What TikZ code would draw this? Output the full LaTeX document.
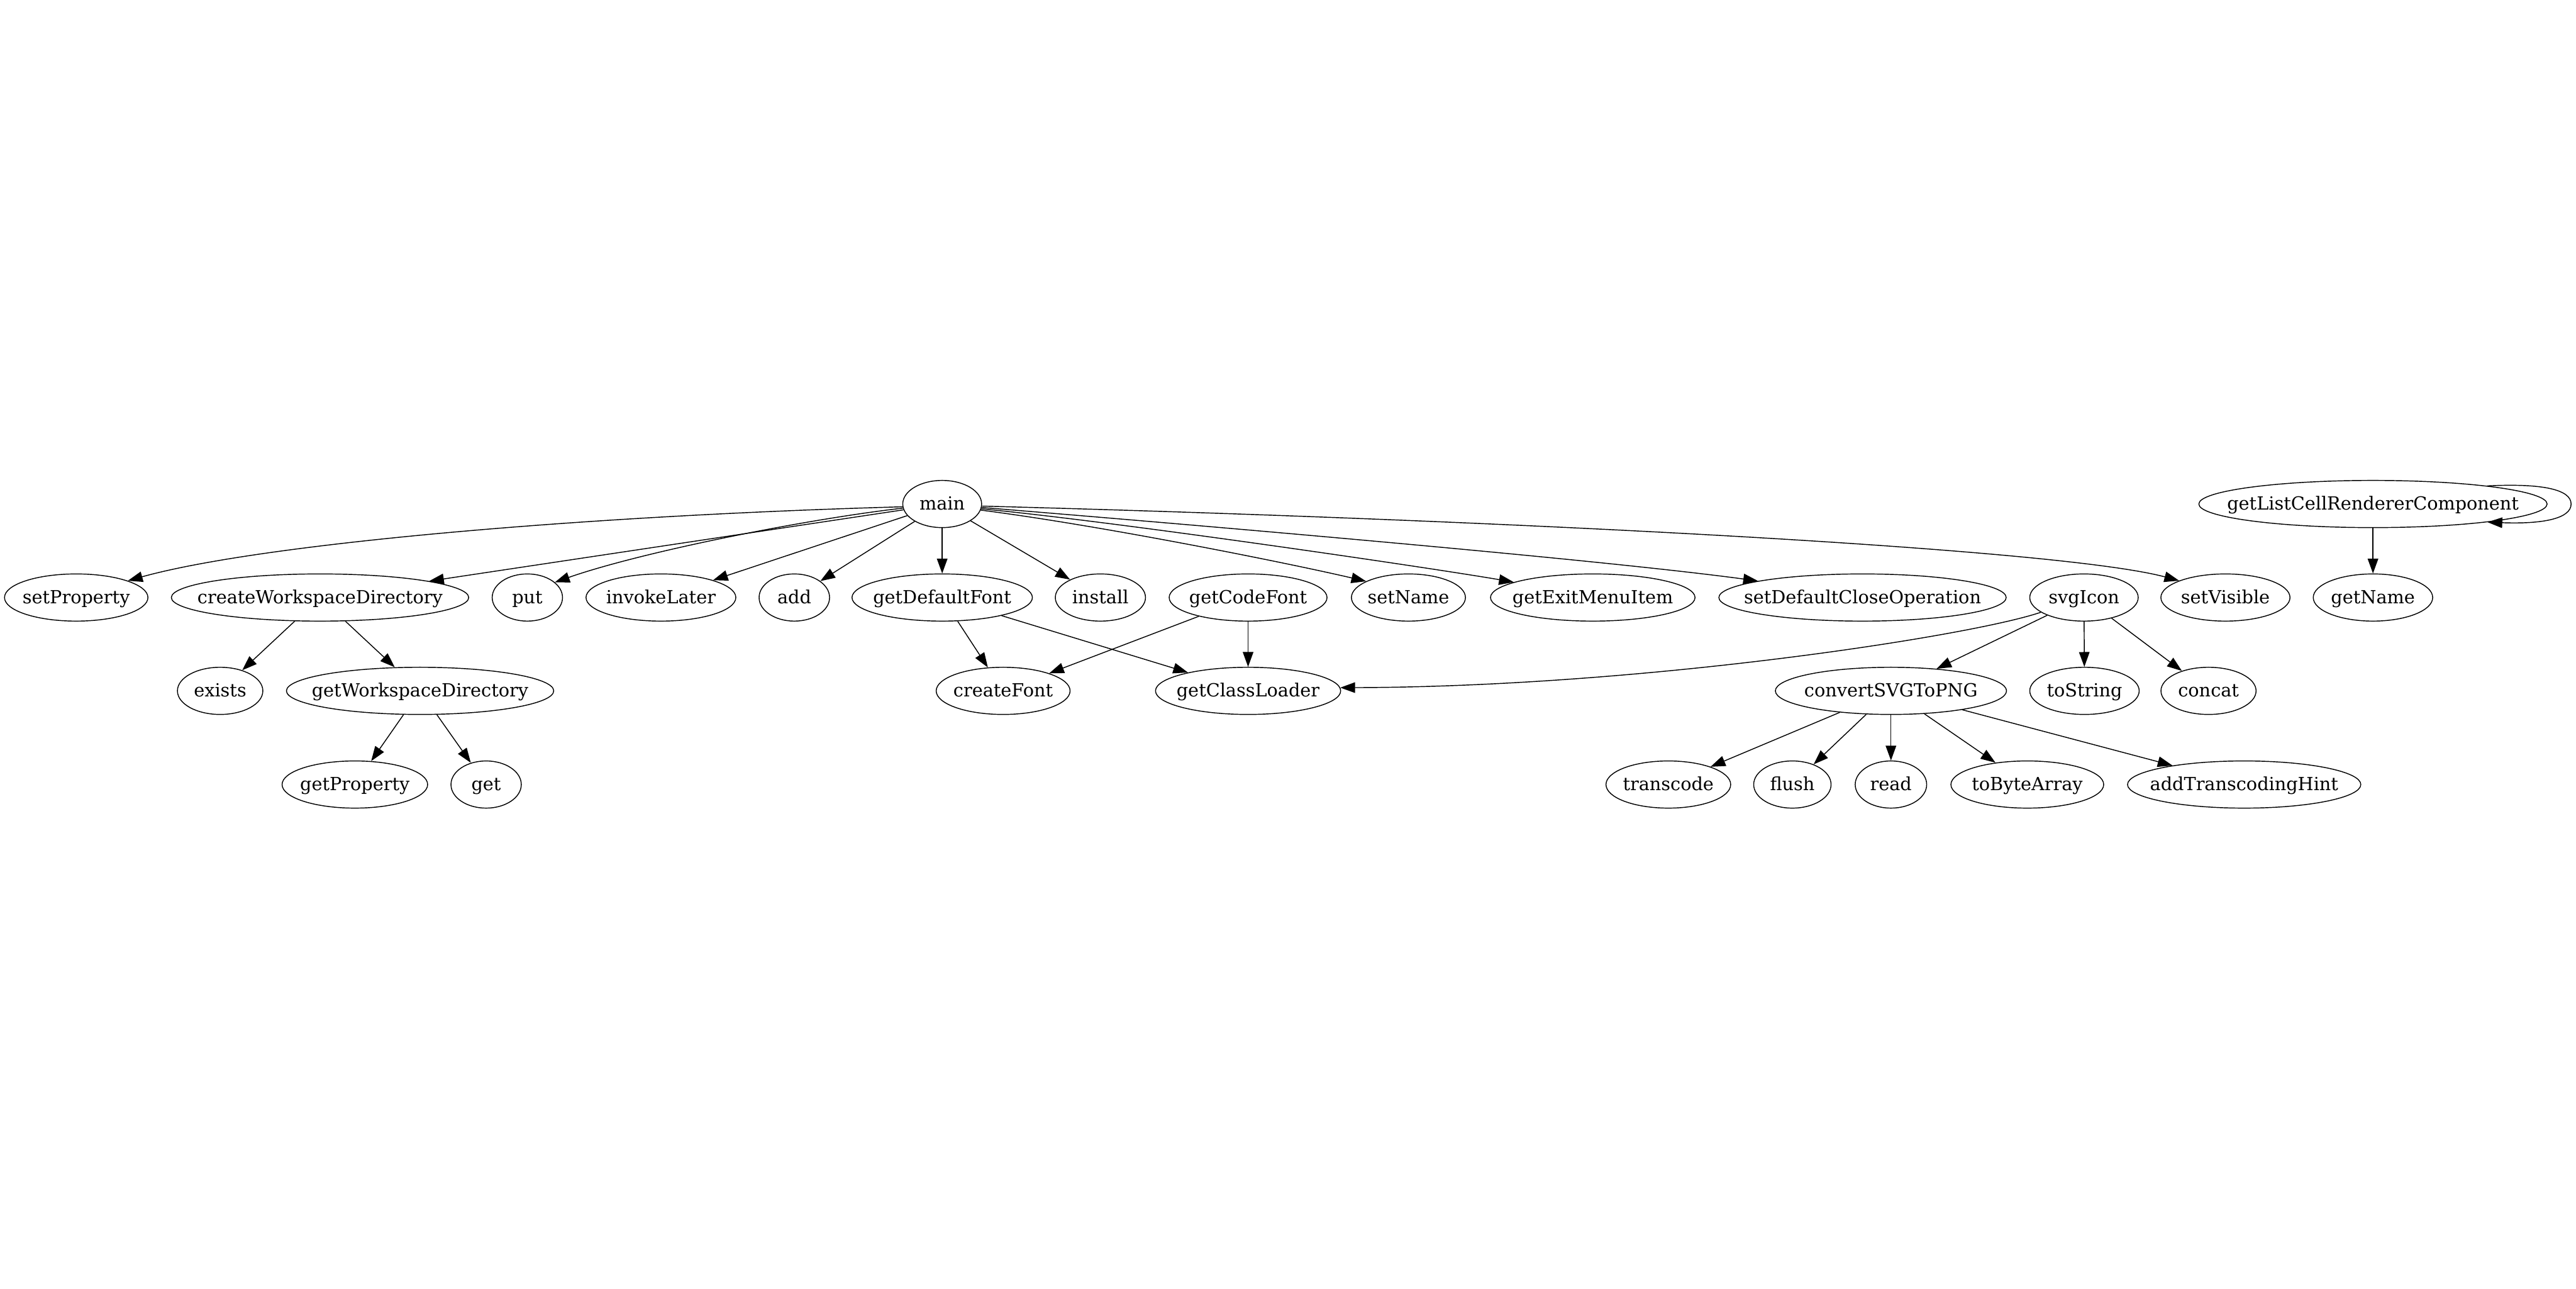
\documentclass[tikz,border=0pt]{standalone}
\usepackage{fontspec}
\setmainfont{DejaVu Serif}
\usetikzlibrary{shapes.geometric,arrows.meta}
\newcommand\fnlbl[1]{\makebox[0pt][c]{#1}}
\tikzset{
  fn/.style={draw, ellipse, line width=0.55pt, minimum height=28.7pt, inner sep=0pt,
    text height=8pt, text depth=0.8pt, font=\fontsize{11}{13}\selectfont},
  edge/.style={line width=0.55pt, -{Triangle[length=9pt,width=6.4pt]}}
}
\begin{document}
\begin{tikzpicture}[x=1pt,y=-1pt]
\useasboundingbox (0,0) rectangle (1568,784);
% row 1
\node[fn, minimum width=48pt] (main) at (573.5,306.7) {\fnlbl{main}};
\node[fn, minimum width=212pt] (glcr) at (1444.4,306.7) {\fnlbl{getListCellRendererComponent}};
% row 2
\node[fn, minimum width=87.3pt] (setProperty) at (46.4,363.6) {\fnlbl{setProperty}};
\node[fn, minimum width=181pt] (cwd) at (194.8,363.6) {\fnlbl{createWorkspaceDirectory}};
\node[fn, minimum width=42.8pt] (put) at (321,363.6) {\fnlbl{put}};
\node[fn, minimum width=91.2pt] (invokeLater) at (402.3,363.6) {\fnlbl{invokeLater}};
\node[fn, minimum width=42.9pt] (add) at (483.5,363.6) {\fnlbl{add}};
\node[fn, minimum width=109.8pt] (getDefaultFont) at (573.5,363.6) {\fnlbl{getDefaultFont}};
\node[fn, minimum width=54.9pt] (install) at (669.8,363.6) {\fnlbl{install}};
\node[fn, minimum width=96.1pt] (getCodeFont) at (759.7,363.6) {\fnlbl{getCodeFont}};
\node[fn, minimum width=69.4pt] (setName) at (857.3,363.6) {\fnlbl{setName}};
\node[fn, minimum width=124.5pt] (getExitMenuItem) at (969.5,363.6) {\fnlbl{getExitMenuItem}};
\node[fn, minimum width=174.9pt] (sdco) at (1133.7,363.6) {\fnlbl{setDefaultCloseOperation}};
\node[fn, minimum width=66pt] (svgIcon) at (1268.5,363.6) {\fnlbl{svgIcon}};
\node[fn, minimum width=78.6pt] (setVisible) at (1354.6,363.6) {\fnlbl{setVisible}};
\node[fn, minimum width=72.7pt] (getName) at (1444.4,363.6) {\fnlbl{getName}};
% row 3
\node[fn, minimum width=52pt] (exists) at (134,420.4) {\fnlbl{exists}};
\node[fn, minimum width=162.7pt] (gwd) at (255.7,420.4) {\fnlbl{getWorkspaceDirectory}};
\node[fn, minimum width=81.5pt] (createFont) at (610.6,420.4) {\fnlbl{createFont}};
\node[fn, minimum width=112.7pt] (getClassLoader) at (759.7,420.4) {\fnlbl{getClassLoader}};
\node[fn, minimum width=140.7pt] (convert) at (1151,420.4) {\fnlbl{convertSVGToPNG}};
\node[fn, minimum width=66.6pt] (toString) at (1268.8,420.4) {\fnlbl{toString}};
\node[fn, minimum width=57.9pt] (concat) at (1344.3,420.4) {\fnlbl{concat}};
% row 4
\node[fn, minimum width=88.6pt] (getProperty) at (216,477.4) {\fnlbl{getProperty}};
\node[fn, minimum width=42.8pt] (get) at (295.9,477.4) {\fnlbl{get}};
\node[fn, minimum width=75.9pt] (transcode) at (1015.5,477.4) {\fnlbl{transcode}};
\node[fn, minimum width=47.1pt] (flush) at (1091,477.4) {\fnlbl{flush}};
\node[fn, minimum width=43.5pt] (read) at (1151,477.4) {\fnlbl{read}};
\node[fn, minimum width=93pt] (toByteArray) at (1234,477.4) {\fnlbl{toByteArray}};
\node[fn, minimum width=142pt] (addHint) at (1366,477.4) {\fnlbl{addTranscodingHint}};
% edges from main
\draw[edge] (main.184) .. controls (349.7,314) and (157.6,331.2) .. (setProperty.18);
\draw[edge] (main) -- (cwd);
\draw[edge] (main.186) .. controls (490,316) and (390,336) .. (put.29);
\draw[edge] (main) -- (invokeLater);
\draw[edge] (main) -- (add);
\draw[edge] (main) -- (getDefaultFont);
\draw[edge] (main) -- (install);
\draw[edge] (main.-9) .. controls (667.6,319.4) and (779.8,341.7) .. (setName.159);
\draw[edge] (main.-7) .. controls (680,317.5) and (870.5,345.5) .. (getExitMenuItem.169);
\draw[edge] (main.-5) .. controls (720,318.8) and (971.5,340.2) .. (sdco.171);
\draw[edge] (main.-3) .. controls (900,316) and (1250,333) .. (setVisible.160);
% other edges
\draw[edge] (cwd) -- (exists);
\draw[edge] (cwd) -- (gwd);
\draw[edge] (gwd) -- (getProperty);
\draw[edge] (gwd) -- (get);
\draw[edge] (getDefaultFont) -- (createFont);
\draw[edge] (getDefaultFont) -- (getClassLoader);
\draw[edge] (getCodeFont) -- (createFont);
\draw[edge] (getCodeFont) -- (getClassLoader);
\draw[edge] (svgIcon) .. controls (1200,387) and (1000,418) .. (getClassLoader.2);
\draw[edge] (svgIcon) -- (convert);
\draw[edge] (svgIcon) -- (toString);
\draw[edge] (svgIcon) -- (concat);
\draw[edge] (convert) -- (transcode);
\draw[edge] (convert) -- (flush);
\draw[edge] (convert) -- (read);
\draw[edge] (convert) -- (toByteArray);
\draw[edge] (convert) -- (addHint);
\draw[edge] (glcr) -- (getName);
\draw[edge] (glcr.9) .. controls (1548,294) and (1565,298) .. (1565,306.7) .. controls (1565,315.5) and (1548,319) .. (glcr.-9);
\end{tikzpicture}
\end{document}
